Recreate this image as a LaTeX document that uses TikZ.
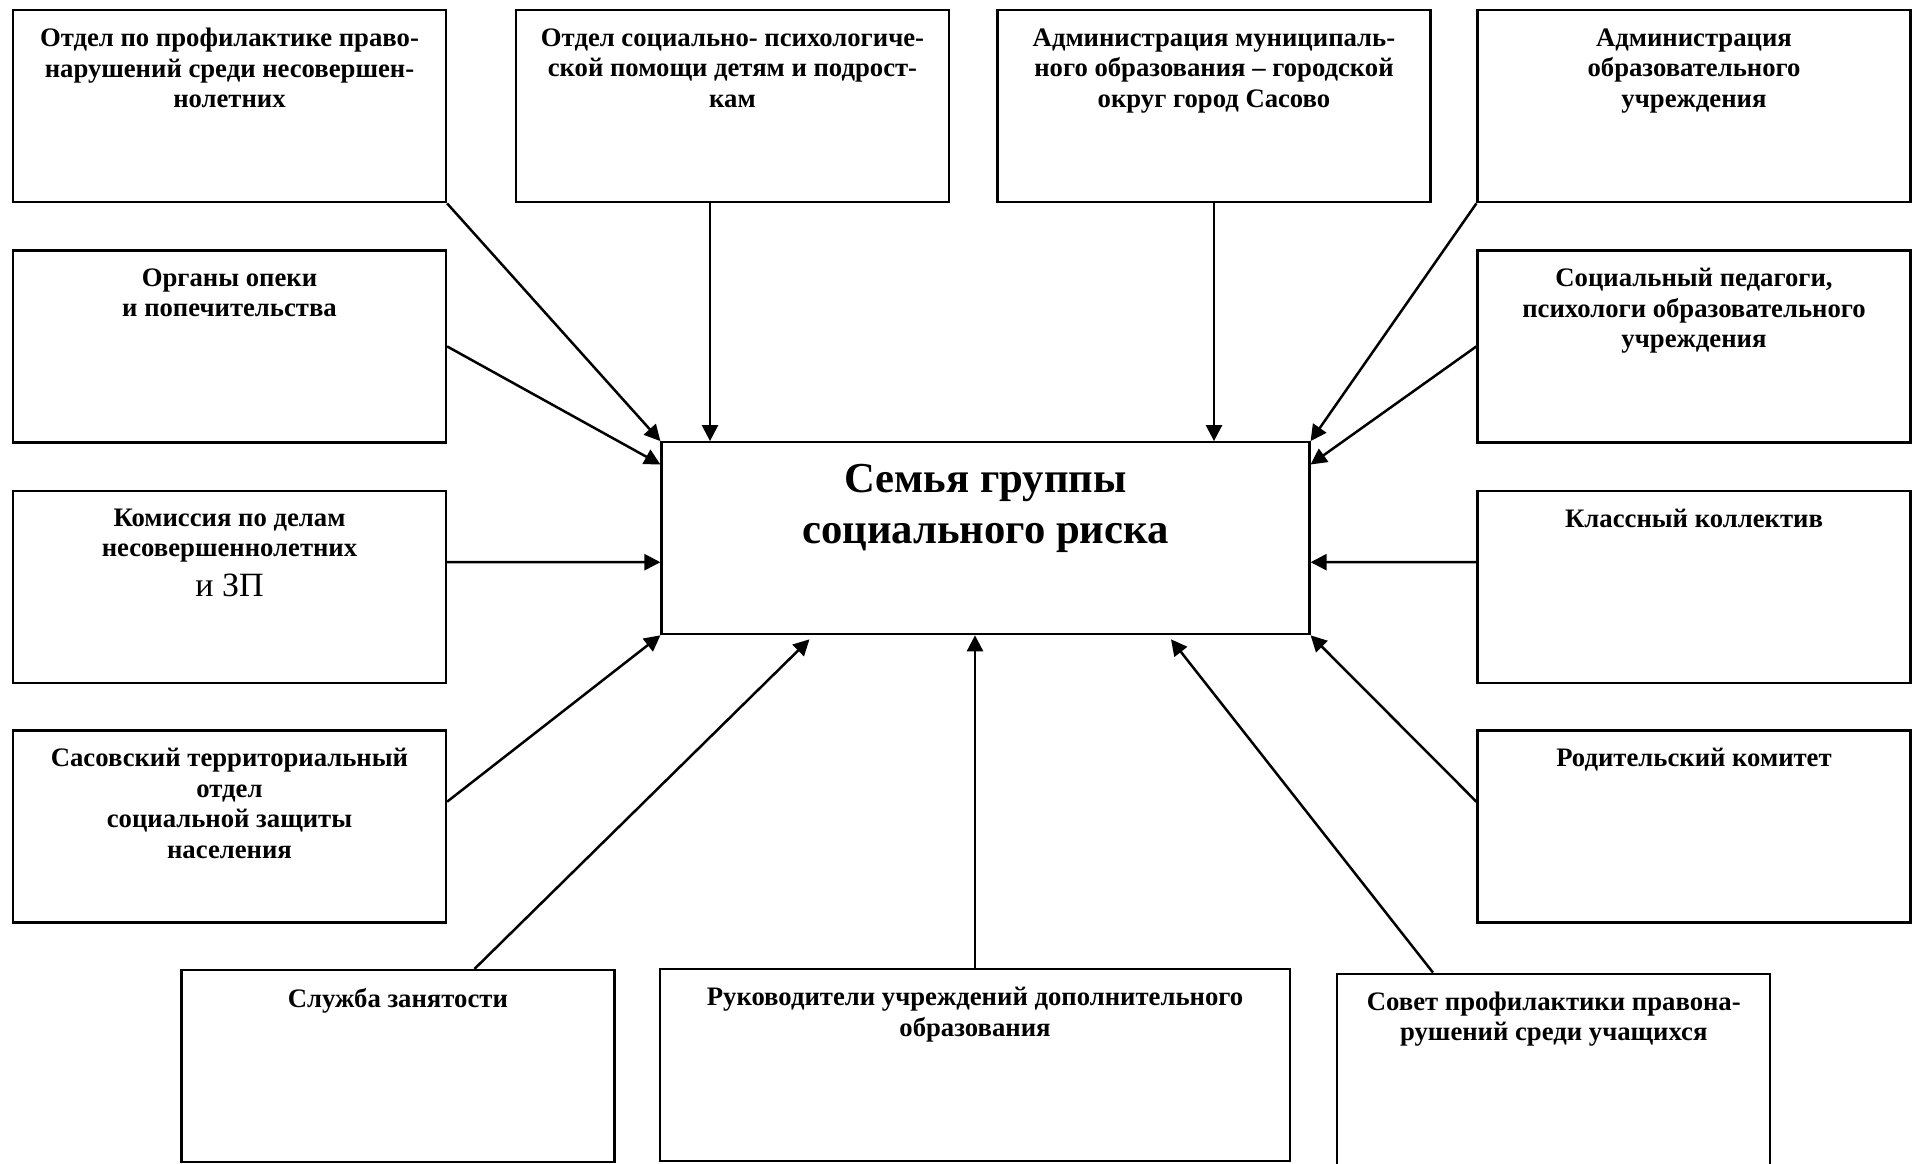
\documentclass[tikz,border=0pt]{standalone}
\usepackage{fontspec}
\setmainfont{Liberation Serif}
\usetikzlibrary{arrows.meta,positioning,calc}
\tikzset{
    orgbox/.style={rectangle, draw, line width=2.2pt, minimum width=433pt, minimum height=192pt, inner sep=0pt},
    orgtext/.style={anchor=north, yshift=-19pt, align=center, inner sep=0pt, font=\bfseries\fontsize{26.7}{30.5}\selectfont},
    famtext/.style={orgtext, yshift=-3.7pt, font=\bfseries\fontsize{42.7}{51}\selectfont},
    link/.style={line width=2.5pt, -{Triangle[length=16pt, width=16pt]}},
}

\begin{document}
\begin{tikzpicture}[x=1pt, y=-1pt]
    \useasboundingbox (0,0) rectangle (1912,1163);

    % centre
    \node[orgbox, minimum width=648pt, label={[famtext]north:{Семья группы\\социального риска}}] (family) at (985.5,538.2) {};

    % top row
    \node[orgbox, label={[orgtext]north:{Отдел по профилактике право-\\нарушений среди несовершен-\\нолетних}}] (pdn) at (229.5,106.3) {};
    \node[orgbox, label={[orgtext]north:{Отдел социально- психологиче-\\ской помощи детям и подрост-\\кам}}] (psych) at (732.5,106.3) {};
    \node[orgbox, label={[orgtext]north:{Администрация муниципаль-\\ного образования – городской\\округ город Сасово}}] (admcity) at (1214,106.3) {};
    \node[orgbox, label={[orgtext]north:{Администрация\\образовательного\\учреждения}}] (admschool) at (1694,106.3) {};

    % left column
    \node[orgbox, label={[orgtext]north:{Органы опеки\\и попечительства}}] (opeka) at (229.5,346.4) {};
    \node[orgbox, label={[orgtext]north:{Комиссия по делам\\несовершеннолетних\\[9pt]{\mdseries\fontsize{34}{40}\selectfont и ЗП}}}] (kdn) at (229.5,586.7) {};
    \node[orgbox, label={[orgtext]north:{Сасовский территориальный\\отдел\\социальной защиты\\населения}}] (szn) at (229.5,826.4) {};

    % right column
    \node[orgbox, label={[orgtext]north:{Социальный педагоги,\\психологи образовательного\\учреждения}}] (pedagog) at (1694,346.4) {};
    \node[orgbox, label={[orgtext]north:{Классный коллектив}}] (klass) at (1694,586.7) {};
    \node[orgbox, label={[orgtext]north:{Родительский комитет}}] (roditel) at (1694,826.4) {};

    % bottom row
    \node[orgbox, label={[orgtext]north:{Служба занятости}}] (zanyat) at (397.9,1066) {};
    \node[orgbox, minimum width=630pt, label={[orgtext]north:{Руководители учреждений дополнительного\\образования}}] (dopobr) at (975,1065.3) {};
    \node[orgbox, label={[orgtext]north:{Совет профилактики правона-\\рушений среди учащихся}}] (sovet) at (1553.8,1069.7) {};

    % arrows to the family
    \draw[link] (pdn.south east) -- (family.north west);
    \draw[link] ([xshift=-22.5pt]psych.south) -- ([xshift=-22.5pt]psych.south |- family.north);
    \draw[link] (admcity.south) -- (admcity.south |- family.north);
    \draw[link] (admschool.south west) -- (family.north east);
    \draw[link] (opeka.east) -- ([yshift=-23.4pt]family.north west);
    \draw[link] (pedagog.west) -- ([yshift=-23.4pt]family.north east);
    \draw[link] ([yshift=24.7pt]kdn.east) -- ([yshift=-24pt]family.west);
    \draw[link] ([yshift=24.7pt]klass.west) -- ([yshift=-24pt]family.east);
    \draw[link] ([yshift=24.7pt]szn.east) -- (family.south west);
    \draw[link] ([yshift=24.7pt]roditel.west) -- (family.south east);
    \draw[link] ([xshift=76.6pt]zanyat.north) -- ([xshift=-176pt, yshift=-4pt]family.south);
    \draw[link] (dopobr.north) -- (dopobr.north |- family.south);
    \draw[link] ([xshift=-120.8pt]sovet.north) -- ([xshift=185.5pt, yshift=-4pt]family.south);
\end{tikzpicture}
\end{document}
